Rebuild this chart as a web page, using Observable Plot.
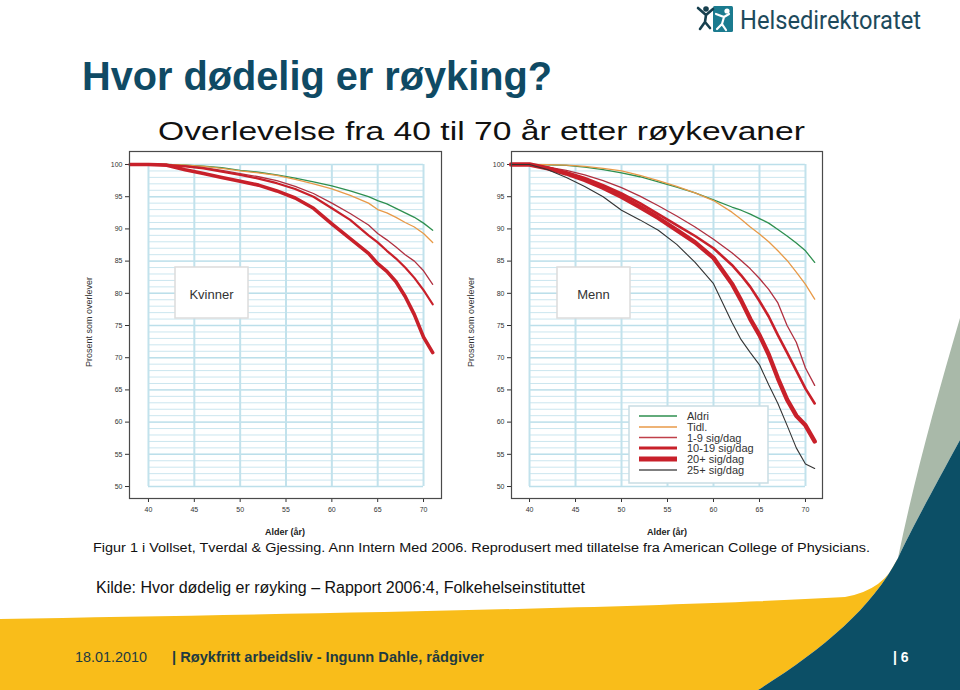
<!DOCTYPE html>
<html><head><meta charset="utf-8">
<script src="https://cdn.jsdelivr.net/npm/d3@7"></script>
<script src="https://cdn.jsdelivr.net/npm/@observablehq/plot@0.6"></script>
<style>
body{margin:0;width:960px;height:690px;position:relative;overflow:hidden;background:#fff;font-family:Arial,"Liberation Sans",sans-serif}
#bg,#fg{position:absolute;left:0;top:0}
#fg{pointer-events:none}
.chart{position:absolute;top:140px}
.chart svg{overflow:visible}
</style></head><body>
<svg id="bg" width="960" height="690">
  <path d="M0,619 C300,614 650,608 845,597 Q885,590 898,558 C872,608 822,650 758,690 L0,690 Z" fill="#f9bd1a"/>
  <path d="M960,318 C936,400 914,480 898,558 C912,528 934,488 960,440 Z" fill="#a9b9a9"/>
  <path d="M960,440 C934,488 912,528 898,558 C872,608 822,650 758,690 L960,690 Z" fill="#0c4f66"/>
</svg>
<div id="left" class="chart" style="left:80px"></div>
<div id="right" class="chart" style="left:462px"></div>
<svg id="fg" width="960" height="690" font-family="Arial, Liberation Sans, sans-serif"></svg>
<script>
// ---- data ----
const xTicks = [40, 45, 50, 55, 60, 65, 70];
const yTicks = [50, 55, 60, 65, 70, 75, 80, 85, 90, 95, 100];
const yGrid = d3.range(50, 101);
const seriesNames = ["Aldri", "Tidl.", "1-9 sig/dag", "10-19 sig/dag", "20+ sig/dag", "25+ sig/dag"];
const xLabel = "Alder (år)";
const yLabel = "Prosent som overlever";
const panelNames = ["Kvinner", "Menn"];

// Kvinner (women)
const kvAges   = [38, 40, 42, 44, 46, 48, 50, 52, 54, 56, 58, 60, 62, 64, 65, 66, 67, 68, 69, 70, 71];
const kvAldri  = [100, 100, 100, 99.9, 99.75, 99.5, 99.1, 98.8, 98.4, 97.9, 97.3, 96.7, 95.9, 95.0, 94.4, 93.9, 93.2, 92.5, 91.8, 90.9, 89.8];
const kvTidl   = [100, 100, 100, 99.9, 99.7, 99.4, 99.0, 98.7, 98.3, 97.7, 97.0, 96.2, 95.2, 94.0, 93.0, 92.5, 91.8, 91.0, 90.3, 89.3, 87.9];
const kv1to9   = [100, 100, 99.95, 99.8, 99.5, 99.1, 98.6, 98.1, 97.5, 96.6, 95.5, 94.0, 92.4, 90.6, 89.3, 88.3, 87.2, 86.0, 85.0, 83.5, 81.4];
const kv10to19 = [100, 100, 99.9, 99.7, 99.4, 98.9, 98.4, 97.8, 97.1, 96.2, 95.0, 93.2, 91.4, 89.0, 87.9, 86.6, 85.4, 84.0, 82.4, 80.5, 78.3];
const kv20plus = [100, 100, 99.9, 99.2, 98.6, 98.0, 97.4, 96.8, 95.9, 94.8, 93.2, 90.8, 88.5, 86.2, 84.6, 83.4, 81.8, 79.5, 76.7, 73.2, 70.8];

// Menn (men)
const mnAges   = [38, 40, 42, 44, 46, 48, 50, 52, 54, 56, 58, 60, 62, 63, 64, 65, 66, 67, 68, 69, 70, 71];
const mnAldri  = [100, 100, 99.95, 99.85, 99.6, 99.2, 98.7, 98.1, 97.3, 96.5, 95.6, 94.5, 93.4, 92.9, 92.3, 91.6, 90.9, 89.9, 88.9, 87.8, 86.6, 84.8];
const mnTidl   = [100, 100, 99.97, 99.9, 99.7, 99.4, 99.0, 98.3, 97.5, 96.6, 95.6, 94.4, 92.6, 91.5, 90.3, 89.2, 88.0, 86.6, 85.1, 83.3, 81.4, 79.1];
const mn1to9   = [100, 100, 99.6, 99.1, 98.4, 97.5, 96.4, 95.1, 93.6, 92.0, 90.3, 88.4, 86.3, 85.1, 83.8, 82.3, 80.6, 78.5, 75.0, 72.4, 68.4, 65.7];
const mn10to19 = [100, 100, 99.5, 98.8, 97.9, 96.8, 95.5, 94.0, 92.3, 90.6, 88.9, 87.0, 84.4, 82.8, 81.0, 78.8, 76.4, 73.5, 70.8, 68.0, 65.2, 62.9];
const mn20plus = [100, 100, 99.4, 98.6, 97.6, 96.4, 95.0, 93.4, 91.7, 89.8, 87.9, 85.5, 81.5, 78.9, 76.0, 73.5, 70.5, 66.8, 63.5, 61.0, 59.5, 57.0];
const mn25plus = [100, 100, 99.2, 98.0, 96.6, 95.0, 92.9, 91.4, 89.8, 87.6, 84.8, 81.5, 75.5, 72.8, 70.8, 68.9, 65.8, 62.9, 59.5, 56.0, 53.5, 52.8];

// ---- styles ----
const colors = {"Aldri": "#2e8f4f", "Tidl.": "#e89a48", "1-9 sig/dag": "#b03040", "10-19 sig/dag": "#c8202a", "20+ sig/dag": "#c8202a", "25+ sig/dag": "#333333"};
const widthsKv = {"Aldri": 1.3, "Tidl.": 1.3, "1-9 sig/dag": 1.3, "10-19 sig/dag": 2.2, "20+ sig/dag": 3.6};
const widthsMn = {"Aldri": 1.3, "Tidl.": 1.3, "1-9 sig/dag": 1.3, "10-19 sig/dag": 2.6, "20+ sig/dag": 4.4, "25+ sig/dag": 1.1};

function rows(ages, values, name) { return ages.map((a, i) => ({age: a, value: values[i], series: name})); }
const kvData = [
  rows(kvAges, kvAldri, "Aldri"), rows(kvAges, kvTidl, "Tidl."), rows(kvAges, kv1to9, "1-9 sig/dag"),
  rows(kvAges, kv10to19, "10-19 sig/dag"), rows(kvAges, kv20plus, "20+ sig/dag")
];
const mnData = [
  rows(mnAges, mnAldri, "Aldri"), rows(mnAges, mnTidl, "Tidl."), rows(mnAges, mn1to9, "1-9 sig/dag"),
  rows(mnAges, mn10to19, "10-19 sig/dag"), rows(mnAges, mn20plus, "20+ sig/dag"), rows(mnAges, mn25plus, "25+ sig/dag")
];

function panel(data, widths, xDomain, marginRight) {
  const gx1 = d3.min(xTicks), gx2 = d3.max(xTicks);
  const gy1 = d3.min(yTicks), gy2 = d3.max(yTicks);
  return Plot.plot({
    width: 380, height: 400,
    marginLeft: 49, marginRight, marginTop: 11, marginBottom: 42,
    style: {fontSize: "7px", fontFamily: "Arial, Liberation Sans, sans-serif", color: "#333", background: "transparent"},
    x: {domain: xDomain, ticks: xTicks, tickSize: 4, tickPadding: 5, label: null},
    y: {domain: [48.14, 102.02], ticks: yTicks, tickSize: 4, tickPadding: 3, label: null},
    marks: [
      Plot.ruleY(yGrid, {x1: gx1, x2: gx2, stroke: "#cbe6ef", strokeWidth: 1}),
      Plot.ruleY(yTicks, {x1: gx1, x2: gx2, stroke: "#bcdfea", strokeWidth: 1.4}),
      Plot.ruleX(xTicks, {y1: gy1, y2: gy2, stroke: "#c2e2ec", strokeWidth: 2}),
      ...data.map(d => Plot.line(d, {x: "age", y: "value", stroke: colors[d[0].series], strokeWidth: widths[d[0].series], strokeLinejoin: "round"})),
      Plot.frame({stroke: "#4a4a4a", strokeWidth: 1.2})
    ]
  });
}
document.getElementById("left").append(panel(kvData, widthsKv, [37.93, 71.96], 19));
document.getElementById("right").append(panel(mnData, widthsMn, [38.04, 71.85], 20));

// ---- overlay texts, boxes, legend ----
const fg = d3.select("#fg");
function txt(x, y, s, o = {}) {
  const t = fg.append("text").attr("x", x).attr("y", y).text(s)
    .attr("font-size", o.size || 12).attr("fill", o.fill || "#222")
    .attr("font-weight", o.weight || "normal").attr("text-anchor", o.anchor || "start");
  if (o.family) t.attr("font-family", o.family);
  if (o.len) t.attr("textLength", o.len).attr("lengthAdjust", "spacingAndGlyphs");
  if (o.rotate) t.attr("transform", `rotate(-90 ${x} ${y})`);
  return t;
}
// slide title
txt(82, 90, "Hvor dødelig er røyking?", {size: 41, weight: "bold", fill: "#0f4a64", len: 470});
// logo
fg.append("rect").attr("x", 713).attr("y", 6).attr("width", 20).attr("height", 26).attr("rx", 1.5).attr("fill", "#1b7b8f");
fg.append("circle").attr("cx", 727).attr("cy", 11).attr("r", 2.6).attr("fill", "#fff");
fg.append("path").attr("d", "M716,14 L724,17 L729,14 M724,17 L722,24 L726,30 M722,24 L717,29").attr("stroke", "#fff").attr("stroke-width", 2.2).attr("fill", "none").attr("stroke-linecap", "round");
fg.append("circle").attr("cx", 706).attr("cy", 9).attr("r", 2.8).attr("fill", "#163f4e");
fg.append("path").attr("d", "M698,8 L706,15 L713,9 M706,15 L705,22 L700,29 M705,22 L710,28").attr("stroke", "#163f4e").attr("stroke-width", 2.6).attr("fill", "none").attr("stroke-linecap", "round");
txt(740, 29, "Helsedirektoratet", {size: 25, fill: "#1d4a5c", family: "Roboto, Arial, sans-serif", len: 181});
// figure title
txt(158, 140, "Overlevelse fra 40 til 70 år etter røykevaner", {size: 25, fill: "#111", len: 647});
// axis labels of both panels
[[285, 92], [667, 474]].forEach(([cx, yx]) => {
  txt(cx, 535, xLabel, {size: 9, weight: "bold", fill: "#222", anchor: "middle"});
  txt(yx, 322, yLabel, {size: 9, fill: "#333", anchor: "middle", rotate: true});
});
// panel name boxes
[[panelNames[0], 175], [panelNames[1], 557]].forEach(([name, x]) => {
  fg.append("rect").attr("x", x).attr("y", 267).attr("width", 73).attr("height", 51).attr("fill", "#fff").attr("stroke", "#dcdcdc").attr("stroke-width", 1.5);
  txt(x + 36.5, 299, name, {size: 13, fill: "#333", anchor: "middle"});
});
// legend
fg.append("rect").attr("x", 629).attr("y", 406).attr("width", 139).attr("height", 77).attr("fill", "#fff").attr("stroke", "#c9dde3").attr("stroke-width", 1.5);
const legendRowsY = [416, 427, 437.5, 448, 459, 470];
const legendWidths = [1.3, 1.3, 1.3, 3, 5, 1.3];
const legendColors = ["#2e8f4f", "#e89a48", "#c0404a", "#c8202a", "#c8202a", "#555"];
seriesNames.forEach((s, i) => {
  fg.append("line").attr("x1", 639).attr("x2", 677).attr("y1", legendRowsY[i]).attr("y2", legendRowsY[i]).attr("stroke", legendColors[i]).attr("stroke-width", legendWidths[i]);
  txt(687, legendRowsY[i] + 4, s, {size: 11, fill: "#333"});
});
// caption & source
txt(93, 552, "Figur 1 i Vollset, Tverdal & Gjessing. Ann Intern Med 2006. Reprodusert med tillatelse fra American College of Physicians.", {size: 12.5, fill: "#111", len: 777});
txt(96, 593, "Kilde: Hvor dødelig er røyking – Rapport 2006:4, Folkehelseinstituttet", {size: 16, fill: "#111", len: 489});
// footer
txt(75, 662, "18.01.2010", {size: 14, fill: "#1e3a40", family: "Liberation Sans Narrow, Arial Narrow, Arial, sans-serif", len: 72});
txt(172, 662, "| Røykfritt arbeidsliv - Ingunn Dahle, rådgiver", {size: 14, weight: "bold", fill: "#1e3a40", family: "Liberation Sans Narrow, Arial Narrow, Arial, sans-serif", len: 312});
txt(893, 662, "| 6", {size: 14, weight: "bold", fill: "#fff", family: "Liberation Sans Narrow, Arial Narrow, Arial, sans-serif"});
</script>
</body></html>
